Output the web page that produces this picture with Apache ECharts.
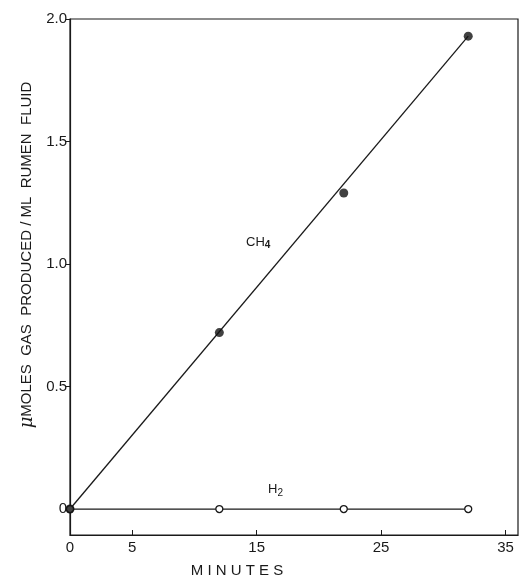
<!DOCTYPE html>
<html lang="en">
<head>
    <meta charset="UTF-8">
    <title>Gas produced</title>
    <script type="text/javascript" src="https://cdn.jsdelivr.net/npm/echarts@6/dist/echarts.min.js"></script>
    <style>
        html, body { margin: 0; padding: 0; background: #fff; }
    </style>
</head>
<body>
<div id="main" style="width:519px;height:579px;"></div>
<script>
    // measured points (minutes, umoles/ml)
    const minutes = [0, 12, 22, 32];
    const ch4 = [0, 0.72, 1.29, 1.93];
    const h2 = [0, 0, 0, 0];
    // hand-drawn fit line for CH4
    const fitMinutes = [0, 32];
    const fitCh4 = [0, 1.93];
    const xTicks = [0, 5, 15, 25, 35];
    const yTicks = [0, 0.5, 1.0, 1.5, 2.0];

    const ink = '#1a1a1a';
    const font = 'Liberation Sans';

    let myChart = echarts.init(document.getElementById('main'));

    let option = {
        backgroundColor: '#fff',
        animation: false,
        grid: {
            left: 70, top: 19, right: 1, bottom: 44,
            show: true, borderColor: ink, borderWidth: 1.2
        },
        xAxis: {
            type: 'value',
            min: 0, max: 36,
            splitLine: { show: false },
            axisLine: { show: true, onZero: false, lineStyle: { color: ink, width: 1.2 } },
            axisTick: { show: true, inside: true, length: 5, customValues: xTicks, lineStyle: { color: ink } },
            axisLabel: { customValues: xTicks, color: ink, fontSize: 15, fontFamily: font, margin: 5 }
        },
        yAxis: {
            type: 'value',
            min: -0.106, max: 2.0,
            splitLine: { show: false },
            axisLine: { show: true, onZero: false, lineStyle: { color: ink, width: 1.2 } },
            axisTick: { show: true, length: 4, customValues: yTicks, lineStyle: { color: ink } },
            axisLabel: {
                customValues: yTicks, color: ink, fontSize: 15, fontFamily: font, margin: 3,
                formatter: v => v === 0 ? '0' : v.toFixed(1)
            }
        },
        series: [
            {
                name: 'CH4 fit', type: 'line',
                data: fitMinutes.map((x, i) => [x, fitCh4[i]]),
                showSymbol: false, lineStyle: { color: ink, width: 1.3 }
            },
            {
                name: 'H2', type: 'line',
                data: minutes.map((x, i) => [x, h2[i]]),
                symbol: 'circle', symbolSize: 7,
                itemStyle: { color: '#fff', borderColor: ink, borderWidth: 1.3 },
                lineStyle: { color: ink, width: 1.3 },
                z: 3
            },
            {
                name: 'CH4', type: 'scatter',
                data: minutes.map((x, i) => [x, ch4[i]]),
                symbol: 'circle', symbolSize: 9,
                itemStyle: { color: '#111' },
                z: 4
            }
        ],
        graphic: [
            {
                type: 'text', left: 246, top: 236,
                style: {
                    text: '{a|CH}{b|4}',
                    rich: {
                        a: { fontSize: 13, fontFamily: font, fill: ink },
                        b: { fontSize: 10, fontFamily: font, fontWeight: 'bold', fill: ink, padding: [6, 0, 0, 0] }
                    }
                }
            },
            {
                type: 'text', left: 268, top: 483,
                style: {
                    text: '{a|H}{b|2}',
                    rich: {
                        a: { fontSize: 13, fontFamily: font, fill: ink },
                        b: { fontSize: 10, fontFamily: font, fill: ink, padding: [7, 0, 0, 0] }
                    }
                }
            },
            {
                type: 'text', x: 237, y: 571,
                style: {
                    text: 'M I N U T E S', fontSize: 15, fontFamily: font, fill: ink,
                    align: 'center', verticalAlign: 'middle'
                }
            },
            {
                type: 'text', x: 27, y: 255, rotation: Math.PI / 2,
                style: {
                    text: '{m|μ}MOLES  GAS  PRODUCED / ML  RUMEN  FLUID',
                    fontSize: 15, fontFamily: font, fill: ink,
                    align: 'center', verticalAlign: 'middle',
                    rich: { m: { fontSize: 18, fontStyle: 'italic', fontFamily: 'DejaVu Serif', fill: ink } }
                }
            }
        ]
    };

    myChart.setOption(option);
</script>
</body>
</html>
